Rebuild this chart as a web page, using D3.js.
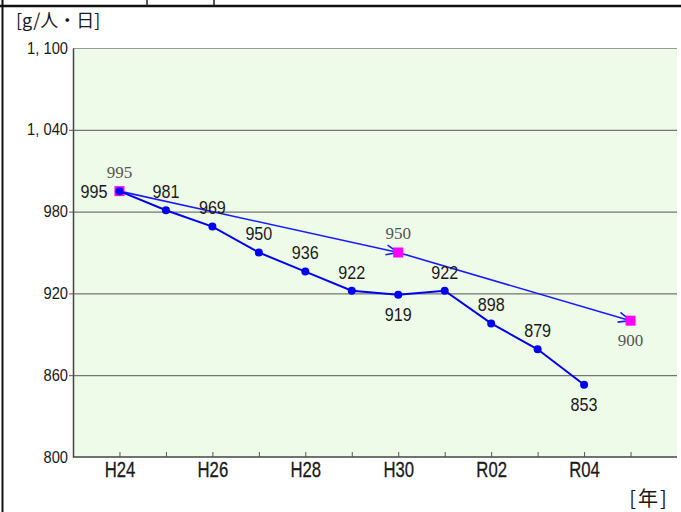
<!DOCTYPE html>
<html>
<head>
<meta charset="utf-8">
<script src="https://cdn.jsdelivr.net/npm/d3@7"></script>
<style>
  body { margin: 0; background: #fff; }
  svg { display: block; }
  .num { font-family: "Liberation Sans", Arial, sans-serif; }
  .jp { font-family: "Noto Sans CJK JP", sans-serif; }
</style>
</head>
<body>
<svg id="chart"></svg>
<script>
const years = ['H24', 'H25', 'H26', 'H27', 'H28', 'H29', 'H30', 'R01', 'R02', 'R03', 'R04', 'R05']
const xLabels = ['H24', 'H26', 'H28', 'H30', 'R02', 'R04']
const actual = [995, 981, 969, 950, 936, 922, 919, 922, 898, 879, 853]
const targetYears = ['H24', 'H30', 'R05']
const targetValues = [995, 950, 900]
const yTicks = [800, 860, 920, 980, 1040, 1100]
// label placement: -1 above, 1 below, 0 left
const labelSide = [0, -1, -1, -1, -1, -1, 1, -1, -1, -1, 1]
const targetSide = [-1, -1, 1]

const W = 681, H = 512
const plot = { left: 73, right: 677, top: 48, bottom: 457 }

const svg = d3.select('#chart').attr('width', W).attr('height', H)

const x = d3.scalePoint().domain(years).range([plot.left, plot.right]).padding(1)
const y = d3.scaleLinear().domain([800, 1100]).range([plot.bottom, plot.top])

// frame around the figure
svg.append('line').attr('x1', 2.5).attr('x2', 2.5).attr('y1', 0).attr('y2', H)
    .attr('stroke', '#111').attr('stroke-width', 2)
svg.append('line').attr('x1', 0).attr('x2', W).attr('y1', 6).attr('y2', 6)
    .attr('stroke', '#111').attr('stroke-width', 2.5)
;[147, 214].forEach(px => {
    svg.append('line').attr('x1', px).attr('x2', px).attr('y1', 0).attr('y2', 6)
        .attr('stroke', '#222').attr('stroke-width', 1.5)
})

// plot background
svg.append('rect')
    .attr('x', plot.left).attr('y', plot.top)
    .attr('width', plot.right - plot.left).attr('height', plot.bottom - plot.top)
    .attr('fill', '#eefbe9')
svg.append('line').attr('x1', plot.left).attr('x2', plot.right)
    .attr('y1', plot.top + 0.5).attr('y2', plot.top + 0.5)
    .attr('stroke', '#999').attr('stroke-width', 1)

// y axis with gridlines
const fmt = d => d3.format(',')(d).replace(',', ', ')
const yAxisGroup = svg.append('g')
    .attr('transform', `translate(${plot.left},0)`)
    .call(d3.axisLeft(y).tickValues(yTicks).tickFormat(fmt).tickSize(5).tickSizeOuter(0))
yAxisGroup.select('.domain').attr('stroke', '#444').attr('stroke-width', 1.5)
yAxisGroup.selectAll('.tick line')
    .attr('x1', d => (d === 800 || d === 1100) ? -4 : plot.right - plot.left)
    .attr('x2', -4)
    .attr('stroke', '#555').attr('stroke-width', 1)
yAxisGroup.selectAll('.tick text')
    .attr('class', 'num')
    .attr('font-size', 16)
    .attr('fill', '#1a1a1a')
    .attr('x', 0)
    .attr('transform', 'translate(-5,0) scale(0.92,1)')

// x axis, ticks pointing inward
const xAxisGroup = svg.append('g')
    .attr('transform', `translate(0,${plot.bottom})`)
    .call(d3.axisBottom(x).tickSize(-5).tickSizeOuter(0)
        .tickFormat(d => xLabels.includes(d) ? d : ''))
xAxisGroup.select('.domain').attr('stroke', '#444').attr('stroke-width', 1.5)
    .attr('d', `M${plot.left},0H${plot.right}`)
xAxisGroup.selectAll('.tick line').attr('stroke', '#555')
xAxisGroup.selectAll('.tick text')
    .attr('class', 'num')
    .attr('font-size', 22)
    .attr('fill', '#1a1a1a')
    .attr('stroke', '#1a1a1a').attr('stroke-width', 0.3)
    .attr('y', 0).attr('dy', 0)
    .attr('transform', 'translate(0,20) scale(0.76,1)')

// arrow marker for target lines
svg.append('defs').append('marker')
    .attr('id', 'arrow')
    .attr('viewBox', '0 0 14 12')
    .attr('refX', 13).attr('refY', 6)
    .attr('markerWidth', 14).attr('markerHeight', 12)
    .attr('markerUnits', 'userSpaceOnUse')
    .attr('orient', 'auto')
    .append('path')
    .attr('d', 'M1,1 L13,6 L1,11')
    .attr('fill', 'none').attr('stroke', '#1a1aff').attr('stroke-width', 1.6)

const targets = targetYears.map((t, i) => ({ year: t, value: targetValues[i] }))
svg.append('g').selectAll('line')
    .data(d3.pairs(targets))
    .join('line')
    .attr('x1', d => x(d[0].year)).attr('y1', d => y(d[0].value))
    .attr('x2', d => x(d[1].year)).attr('y2', d => y(d[1].value))
    .attr('stroke', '#1a1aff').attr('stroke-width', 1.6)
    .attr('marker-end', 'url(#arrow)')

svg.append('g').selectAll('rect')
    .data(targets)
    .join('rect')
    .attr('x', d => x(d.year) - 5).attr('y', d => y(d.value) - 5)
    .attr('width', 10).attr('height', 10)
    .attr('fill', '#ff00ff')

// actual series
const series = actual.map((v, i) => ({ year: years[i], value: v, side: labelSide[i] }))
svg.append('path')
    .datum(series)
    .attr('fill', 'none')
    .attr('stroke', '#0000f0')
    .attr('stroke-width', 2)
    .attr('d', d3.line().x(d => x(d.year)).y(d => y(d.value)))

svg.append('g').selectAll('circle')
    .data(series)
    .join('circle')
    .attr('cx', d => x(d.year)).attr('cy', d => y(d.value))
    .attr('r', 4)
    .attr('fill', '#0000f0')

// value labels
svg.append('g').selectAll('text')
    .data(series)
    .join('text')
    .attr('class', 'num')
    .attr('font-size', 19)
    .attr('fill', '#1a1a1a')
    .attr('text-anchor', d => d.side === 0 ? 'end' : 'middle')
    .attr('dy', '0.36em')
    .attr('transform', d => {
        const px = x(d.year) + (d.side === 0 ? -12 : 0)
        const py = y(d.value) + (d.side === 0 ? 0 : d.side * 19)
        return `translate(${px},${py}) scale(0.85,1)`
    })
    .text(d => d.value)

svg.append('g').selectAll('text')
    .data(targets.map((d, i) => ({ ...d, side: targetSide[i] })))
    .join('text')
    .attr('font-family', '"Liberation Serif", "Times New Roman", serif')
    .attr('font-size', 17)
    .attr('fill', '#555')
    .attr('text-anchor', 'middle')
    .attr('dy', '0.35em')
    .attr('x', d => x(d.year))
    .attr('y', d => y(d.value) + d.side * 19)
    .text(d => d.value)

// unit labels
svg.append('text').attr('class', 'jp')
    .attr('x', 16).attr('y', 27)
    .attr('font-size', 18).attr('fill', '#1a1a1a')
    .text('[g/人・日]')
svg.append('text').attr('class', 'jp')
    .attr('x', 649).attr('y', 506)
    .attr('text-anchor', 'middle')
    .attr('font-size', 20).attr('fill', '#1a1a1a')
    .attr('letter-spacing', 2)
    .text('[年]')
</script>
</body>
</html>
